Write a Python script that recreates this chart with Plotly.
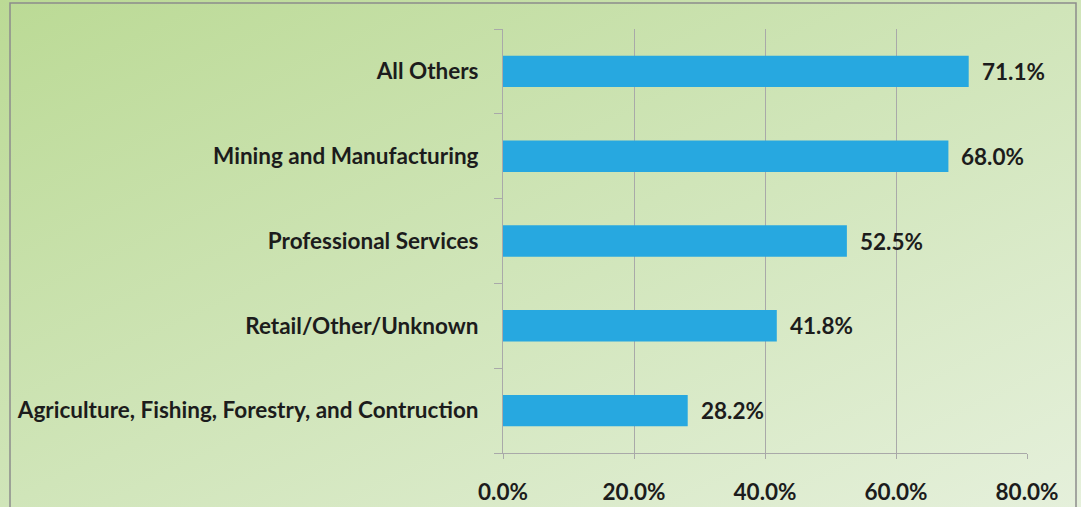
import base64
import plotly.graph_objects as go

# Shares by industry group (percent), listed bottom to top
categories = [
    "Agriculture, Fishing, Forestry, and Contruction",
    "Retail/Other/Unknown",
    "Professional Services",
    "Mining and Manufacturing",
    "All Others",
]
values = [28.2, 41.8, 52.5, 68.0, 71.1]
x_ticks = [0, 20, 40, 60, 80]
x_tick_labels = ["0.0%", "20.0%", "40.0%", "60.0%", "80.0%"]

W, H = 1081, 507
M_L, M_R, M_T, M_B = 503, 54, 29, 54
plot_w = W - M_L - M_R
plot_h = H - M_T - M_B

FONT = "Lato"
FSIZE = 22.5
TEXT = "#1c1c1c"
BAR = "#27a8e0"
GRID = "#a9a9a9"

# Soft green diagonal gradient used as the chart background
svg = (
    '<svg xmlns="http://www.w3.org/2000/svg" width="1081" height="507" '
    'preserveAspectRatio="none" viewBox="0 0 1081 507">'
    '<defs><linearGradient id="g" x1="0" y1="0" x2="1" y2="1">'
    '<stop offset="0" stop-color="#bbda95"/>'
    '<stop offset="0.5" stop-color="#d0e5b9"/>'
    '<stop offset="1" stop-color="#e5f0db"/>'
    '</linearGradient></defs>'
    '<rect width="1081" height="507" fill="url(#g)"/></svg>'
)
bg_src = "data:image/svg+xml;base64," + base64.b64encode(svg.encode()).decode()

fig = go.Figure(
    go.Bar(
        x=values,
        y=categories,
        orientation="h",
        marker=dict(color=BAR, line=dict(width=0)),
        width=0.37,
        hoverinfo="skip",
    )
)

# Value labels just past the end of each bar
for cat, v in zip(categories, values):
    fig.add_annotation(
        x=v, y=cat, text=f"{v:.1f}%",
        xanchor="left", yanchor="middle", xshift=11,
        showarrow=False,
        font=dict(family=FONT, size=FSIZE, color=TEXT, weight="bold"),
    )

# Outer chart border (left, top and right edges; the bottom runs off the page)
bx0 = (10 - M_L) / plot_w
bx1 = (1076 - M_L) / plot_w
by_top = 1 + (M_T - 3) / plot_h
by_bot = -(M_B + 5) / plot_h
fig.add_shape(
    type="path", xref="paper", yref="paper",
    path=f"M {bx0} {by_bot} L {bx0} {by_top} L {bx1} {by_top} L {bx1} {by_bot}",
    line=dict(color="#8c8c8c", width=1.5),
    layer="above",
)

fig.update_layout(
    width=W, height=H,
    margin=dict(l=M_L, r=M_R, t=M_T, b=M_B, pad=0, autoexpand=False),
    paper_bgcolor="#d4e7bf",
    plot_bgcolor="white",
    showlegend=False,
    images=[dict(
        source=bg_src, xref="paper", yref="paper",
        x=-M_L / plot_w, y=1 + M_T / plot_h,
        sizex=W / plot_w, sizey=H / plot_h,
        sizing="stretch", layer="below", xanchor="left", yanchor="top",
    )],
    xaxis=dict(
        range=[0, 80],
        tickvals=x_ticks, ticktext=x_tick_labels,
        showgrid=True, gridcolor=GRID, gridwidth=1,
        zeroline=False,
        showline=True, linecolor=GRID, linewidth=1,
        ticks="outside", ticklen=5, tickcolor=GRID,
        ticklabelstandoff=14,
        tickfont=dict(family=FONT, size=FSIZE, color=TEXT, weight="bold"),
        automargin=False,
        fixedrange=True,
    ),
    yaxis=dict(
        categoryorder="array", categoryarray=categories,
        showgrid=False, zeroline=False,
        showline=True, linecolor=GRID, linewidth=1,
        ticks="outside", ticklen=8, tickcolor=GRID,
        tickson="boundaries",
        ticklabelstandoff=19,
        tickfont=dict(family=FONT, size=FSIZE, color=TEXT, weight="bold"),
        automargin=False,
        fixedrange=True,
    ),
)

fig.write_html("out.html")
